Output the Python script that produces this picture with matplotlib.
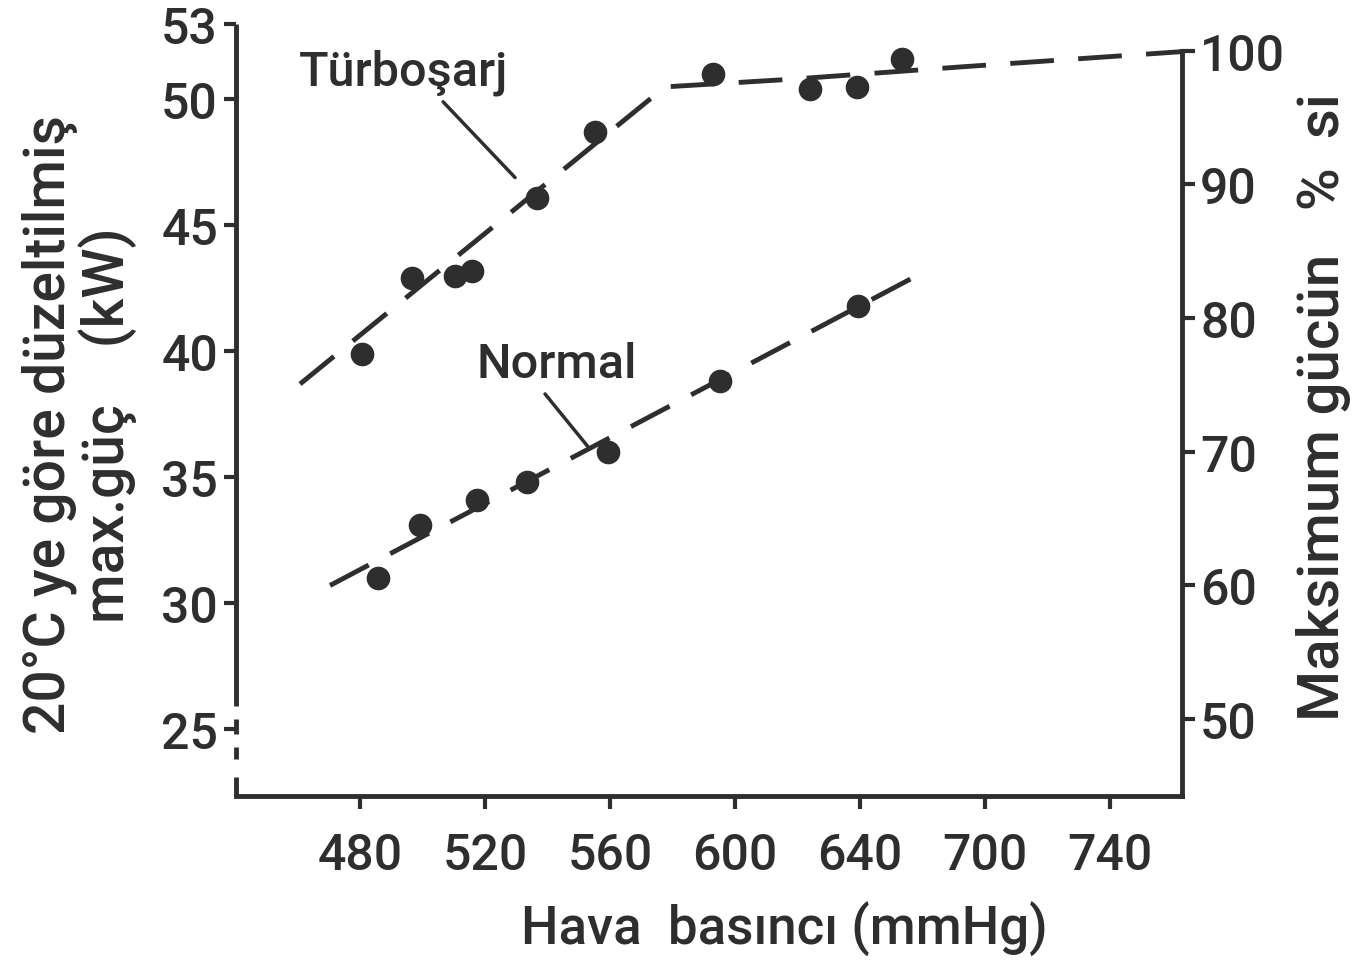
import matplotlib.pyplot as plt

# printed pressure scale: evenly spaced marks, last two labelled 700 / 740
pressure_ticks = [480, 520, 560, 600, 640, 680, 720]
pressure_labels = ['480', '520', '560', '600', '640', '700', '740']

kw_ticks = [25, 30, 35, 40, 45, 50, 53]
pct_ticks = [50, 60, 70, 80, 90, 100]

# measured points
turbo_p = [480.6, 496.6, 510.4, 515.8, 536.6, 555.2, 593.0, 624.0, 639.0, 653.4]
turbo_kw = [39.9, 42.9, 43.0, 43.2, 46.1, 48.7, 51.0, 50.4, 50.5, 51.6]
normal_p = [485.8, 499.2, 517.4, 533.4, 559.4, 595.2, 639.4]
normal_kw = [31.0, 33.1, 34.1, 34.8, 36.0, 38.8, 41.8]

# hand-drawn trend lines
turbo_fit_p = [460.8, 577.6, 617.6, 673.0, 743.0]
turbo_fit_kw = [38.7, 50.5, 50.8, 51.3, 51.9]
normal_fit_p = [470.4, 656.6]
normal_fit_kw = [30.7, 42.9]

ink = '#2e2e2e'
plt.rcParams['font.family'] = ['Roboto', 'DejaVu Sans']
plt.rcParams['font.weight'] = 'medium'
plt.rcParams['text.color'] = ink

fig = plt.figure(figsize=(13.53, 9.70), dpi=100)
ax = fig.add_axes([0.1744, 0.1784, 0.6992, 0.7959])
ax.set_xlim(440.3, 743.0)
ax.set_ylim(22.34, 53.0)

ax.plot(turbo_fit_p, turbo_fit_kw, color=ink, lw=3.5, dashes=(9, 5),
        dash_capstyle='butt')
ax.plot(normal_fit_p, normal_fit_kw, color=ink, lw=3.5, dashes=(9, 5),
        dash_capstyle='butt')
ax.plot(turbo_p, turbo_kw, 'o', color=ink, ms=16, zorder=3)
ax.plot(normal_p, normal_kw, 'o', color=ink, ms=16, zorder=3)

# spines
ax.spines['top'].set_visible(False)
ax.spines['right'].set_visible(False)
ax.spines['left'].set_visible(False)
ax.spines['bottom'].set_linewidth(3.5)
ax.spines['bottom'].set_color(ink)

# left axis drawn by hand with a break near 25
ytr = ax.get_yaxis_transform()
for y0, y1 in [(53.0, 25.9), (25.4, 24.8), (24.3, 23.8), (23.1, 22.34)]:
    ax.plot([0, 0], [y0, y1], color=ink, lw=3.5, transform=ytr,
            clip_on=False, solid_capstyle='butt')

ax.set_xticks(pressure_ticks)
ax.set_xticklabels(pressure_labels)
ax.set_yticks(kw_ticks)
ax.tick_params(axis='both', direction='out', length=9, width=3, color=ink,
               labelsize=36, labelcolor=ink, pad=4)
ax.tick_params(axis='x', pad=16)

ax2 = ax.twinx()
ax2.set_ylim(44.24, 102.0)
for s in ['top', 'left', 'bottom']:
    ax2.spines[s].set_visible(False)
ax2.spines['right'].set_bounds(44.24, 100)
ax2.spines['right'].set_linewidth(3.5)
ax2.spines['right'].set_color(ink)
ax2.set_yticks(pct_ticks)
ax2.tick_params(axis='y', direction='out', length=9, width=3, color=ink,
                labelsize=36, labelcolor=ink, pad=4)

# curve labels
ax.annotate('Türboşarj', xy=(529.6, 46.9), xytext=(493.8, 51.1),
            ha='center', va='center', fontsize=35, color=ink,
            arrowprops=dict(arrowstyle='-', color=ink, lw=2.5,
                            relpos=(0.66, 0.0), shrinkA=4, shrinkB=0))
ax.annotate('Normal', xy=(553.0, 36.2), xytext=(543.0, 39.5),
            ha='center', va='center', fontsize=35, color=ink,
            arrowprops=dict(arrowstyle='-', color=ink, lw=2.5,
                            relpos=(0.39, 0.0), shrinkA=4, shrinkB=0))

# axis titles
ax.text(0.580, -0.172, 'Hava  basıncı (mmHg)', transform=ax.transAxes,
        ha='center', va='center', fontsize=38)
ax.text(-0.165, 0.482, '20°C ye göre düzeltilmiş\nmax.güç    (kW)',
        transform=ax.transAxes, rotation=90, ha='center', va='center',
        fontsize=41, linespacing=1.0)
ax.text(1.150, 0.505, 'Maksimum gücün   %  si', transform=ax.transAxes,
        rotation=90, ha='center', va='center', fontsize=42)

fig.savefig('out.png', dpi=100, facecolor='white')
